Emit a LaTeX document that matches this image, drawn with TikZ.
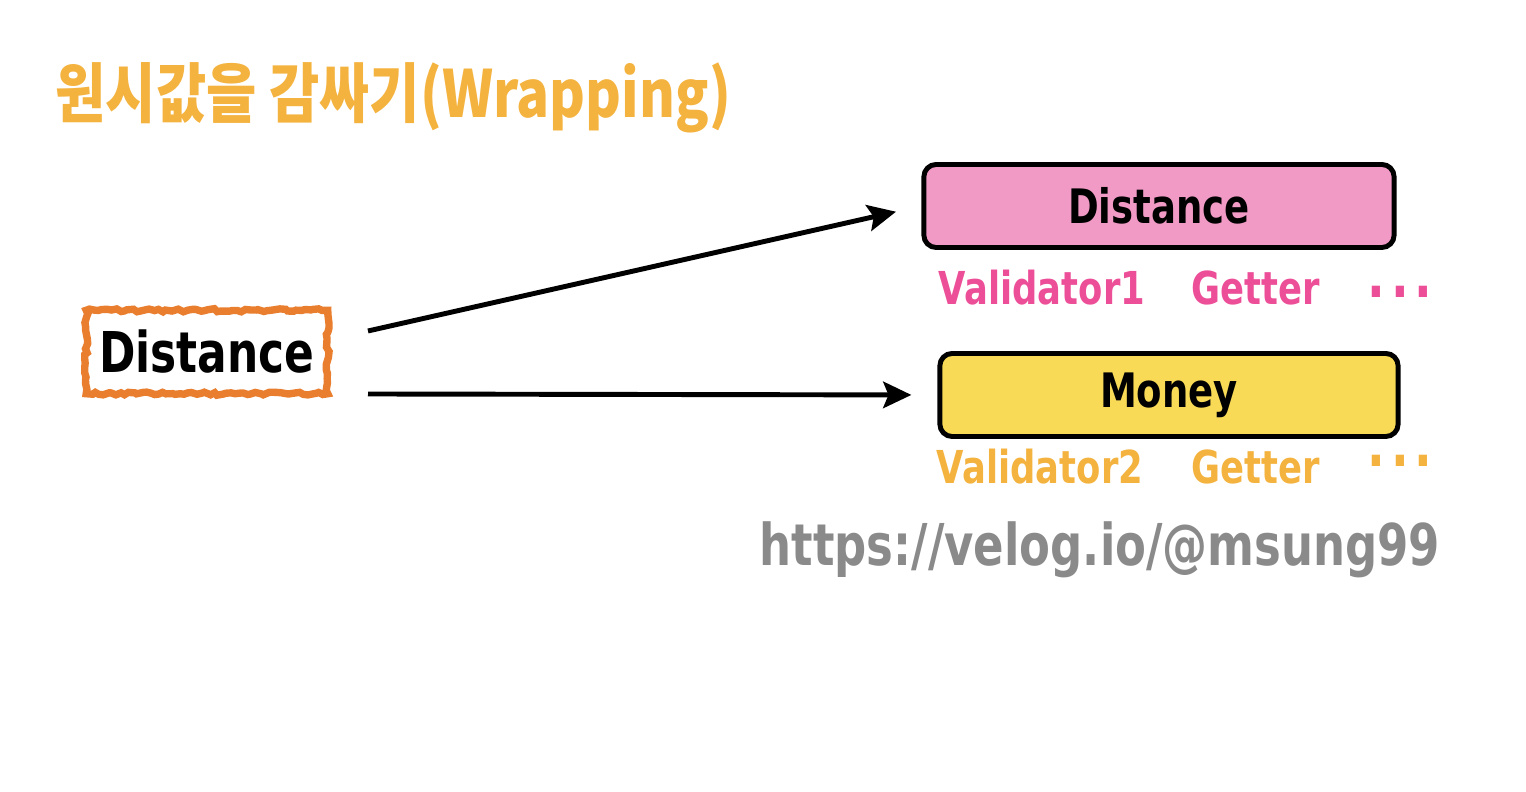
\documentclass[tikz,border=0pt]{standalone}
\usepackage{fontspec}
\setmainfont{DejaVu Sans}[FakeStretch=0.78]
\newfontfamily\korfont{Noto Sans CJK KR}[FakeStretch=0.84]
\usetikzlibrary{arrows.meta, decorations.pathmorphing, positioning}
\definecolor{titleorange}{RGB}{244, 178, 62}
\definecolor{roughorange}{RGB}{233, 126, 46}
\definecolor{boxpink}{RGB}{241, 154, 197}
\definecolor{textpink}{RGB}{236, 79, 152}
\definecolor{boxyellow}{RGB}{248, 218, 87}
\definecolor{urlgray}{RGB}{138, 138, 138}
\newcommand{\moredots}{.\hspace{1.6pt}.\hspace{1.6pt}.}

\begin{document}
\begin{tikzpicture}[x=0.01cm, y=-0.01cm,
  wrapbox/.style={draw=black, line width=1.4pt, rounded corners=3.5pt,
    minimum height=0.83cm, font=\bfseries\fontsize{13.5}{16}\selectfont},
  sublabel/.style={font=\bfseries\fontsize{12.9}{16}\selectfont},
  dotlabel/.style={anchor=base, inner sep=0pt, font=\bfseries\fontsize{17}{18}\selectfont},
  arrow/.style={-{Stealth[length=8pt, width=7.5pt, inset=1.5pt]},
    line width=1.4pt, shorten >=7.4pt}
]
  \useasboundingbox (0,0) rectangle (1526,792);

  % Title
  \node[anchor=base west, inner sep=0pt, text=titleorange,
    font=\korfont\bfseries\fontsize{18.5}{20}\selectfont] (title) at (55,118)
    {원시값을 감싸기(Wrapping)};

  % Primitive value
  \node[minimum width=2.4cm, minimum height=0.82cm,
    font=\bfseries\fontsize{16}{18}\selectfont] (prim) at (207,352) {Distance};
  \draw[draw=roughorange, line width=2.1pt,
    decorate, decoration={random steps, segment length=1.2pt, amplitude=0.45pt}]
    (prim.south west) rectangle (prim.north east);

  % Wrapper classes
  \node[wrapbox, fill=boxpink, minimum width=4.7cm] (dist) at (1159,206) {Distance};
  \node[wrapbox, fill=boxyellow, minimum width=4.58cm] (money) at (1169,395) {Money};

  \node[sublabel, text=textpink] (val1) at (1042,288) {Validator1};
  \node[sublabel, text=textpink] (get1) at (1256,288) {Getter};
  \node[dotlabel, text=textpink] (more1) at (1400,298) {\moredots};
  \node[sublabel, text=titleorange] (val2) at (1040,467) {Validator2};
  \node[sublabel, text=titleorange] (get2) at (1256,467) {Getter};
  \node[dotlabel, text=titleorange] (more2) at (1400,467) {\moredots};

  % Arrows
  \coordinate (from1) at (368,331);
  \coordinate (from2) at (368,394);
  \draw[arrow] (from1) -- (dist.west);
  \draw[arrow] (from2) -- (money.west);

  % Source
  \node[text=urlgray, font=\bfseries\fontsize{16.4}{20}\selectfont] (url) at (1100,550)
    {https://velog.io/@msung99};
\end{tikzpicture}
\end{document}
